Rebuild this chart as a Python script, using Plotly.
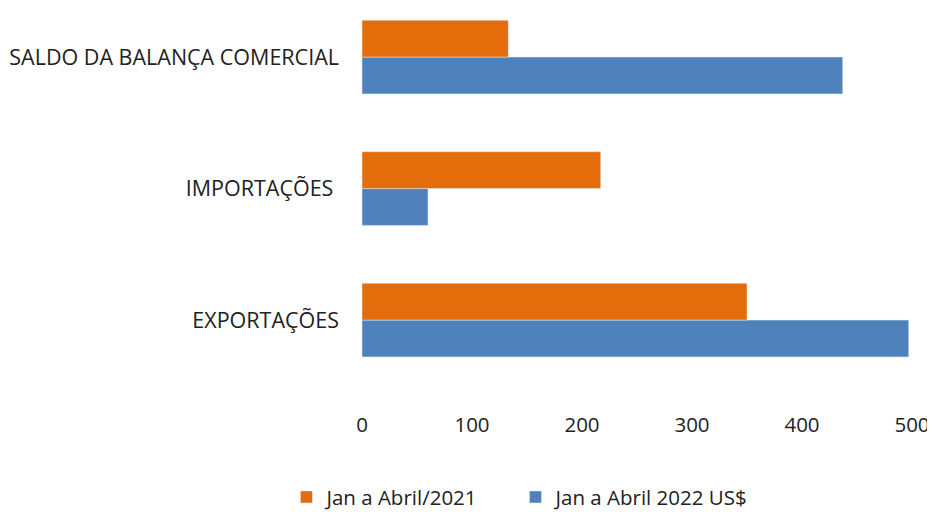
import plotly.graph_objects as go

categories = ["EXPORTAÇÕES", "IMPORTAÇÕES ", "SALDO DA BALANÇA COMERCIAL"]
jan_abr_2021 = [350, 217, 133]
jan_abr_2022 = [497, 60, 437]

FONT = "Open Sans, Arial"

fig = go.Figure()
# blue trace first so it sits below the orange one within each group
fig.add_trace(go.Bar(
    y=categories, x=jan_abr_2022, orientation="h",
    name="Jan a Abril 2022 US$", marker_color="#4F81BD",
))
fig.add_trace(go.Bar(
    y=categories, x=jan_abr_2021, orientation="h",
    name="Jan a Abril/2021      ", marker_color="#E46C0A",
))

# page body has an 8px margin, so the figure is sized to fit inside it
fig.update_layout(
    width=927, height=506,
    barmode="group", bargap=0.44, bargroupgap=0,
    margin=dict(l=354, r=23, t=0, b=128, autoexpand=False),
    paper_bgcolor="white", plot_bgcolor="white",
    font=dict(family=FONT, size=20, color="#222222"),
    legend=dict(
        orientation="h", traceorder="reversed",
        x=0.288, xanchor="center", y=-0.294, yanchor="middle",
        font=dict(size=20.5), itemwidth=30,
    ),
    xaxis=dict(
        range=[0, 500], tickvals=[0, 100, 200, 300, 400, 500],
        showgrid=False, zeroline=False, showline=False, automargin=False,
        ticklabelstandoff=24, tickfont=dict(size=20.5),
    ),
    yaxis=dict(
        range=[-0.501, 2.373], showgrid=False, zeroline=False, automargin=False,
        showline=False, ticklabelstandoff=22, tickfont=dict(size=21.5),
    ),
)

fig.write_html("out.html")
